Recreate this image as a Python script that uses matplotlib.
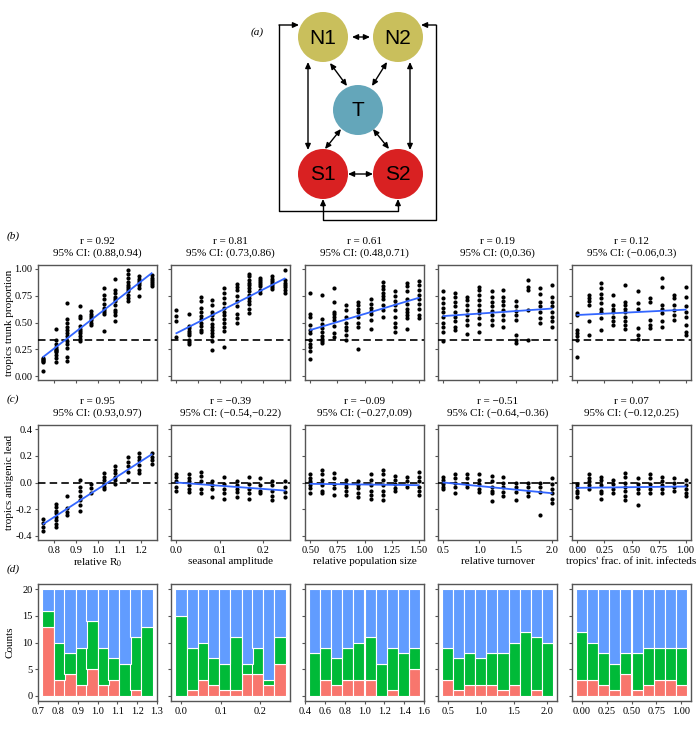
"""Recreation of the multi-panel tropics trunk / antigenic lead figure."""

import matplotlib
matplotlib.use("Agg")
import matplotlib.pyplot as plt
from matplotlib.patches import Circle
from matplotlib.ticker import FormatStrFormatter

plt.rcParams["font.family"] = ["Liberation Serif", "DejaVu Serif"]
plt.rcParams["mathtext.fontset"] = "stix"

W, H = 700, 734

# ---------------------------------------------------------------- data
param_names = [r"relative R$_0$", "seasonal amplitude", "relative population size",
               "relative turnover", "tropics' frac. of init. infecteds"]

r0_x = [0.75, 0.806, 0.861, 0.917, 0.972, 1.028, 1.083, 1.139, 1.194, 1.25]
amp_x = [0.0, 0.028, 0.056, 0.083, 0.111, 0.139, 0.167, 0.194, 0.222, 0.25]
pop_x = [0.5, 0.611, 0.722, 0.833, 0.944, 1.056, 1.167, 1.278, 1.389, 1.5]
turn_x = [0.5, 0.667, 0.833, 1.0, 1.167, 1.333, 1.5, 1.667, 1.833, 2.0]
frac_x = [0.0, 0.111, 0.222, 0.333, 0.444, 0.556, 0.667, 0.778, 0.889, 1.0]
param_x = [r0_x, amp_x, pop_x, turn_x, frac_x]

# tropics trunk proportion, one list per parameter value
trunk_r0 = [
    [0.17, 0.16, 0.15, 0.14, 0.13, 0.05],
    [0.44, 0.34, 0.30, 0.27, 0.25, 0.24, 0.23, 0.22, 0.20, 0.17, 0.13],
    [0.68, 0.53, 0.50, 0.46, 0.43, 0.40, 0.37, 0.33, 0.30, 0.26, 0.18, 0.14],
    [0.65, 0.56, 0.54, 0.47, 0.44, 0.42, 0.40, 0.37, 0.35, 0.33],
    [0.61, 0.58, 0.56, 0.54, 0.52, 0.50, 0.48],
    [0.82, 0.76, 0.72, 0.67, 0.64, 0.62, 0.60, 0.58, 0.42],
    [0.91, 0.80, 0.78, 0.74, 0.72, 0.70, 0.66, 0.62, 0.60, 0.57, 0.51],
    [0.99, 0.95, 0.92, 0.88, 0.85, 0.83, 0.81, 0.79, 0.76, 0.73, 0.70],
    [0.93, 0.91, 0.89, 0.87, 0.85, 0.82, 0.75],
    [0.94, 0.92, 0.90, 0.88, 0.86, 0.84],
]
trunk_amp = [
    [0.62, 0.56, 0.51, 0.36],
    [0.58, 0.47, 0.45, 0.42, 0.40, 0.38, 0.34, 0.32, 0.30],
    [0.74, 0.70, 0.64, 0.60, 0.56, 0.53, 0.50, 0.47, 0.43, 0.41],
    [0.71, 0.66, 0.60, 0.57, 0.53, 0.49, 0.46, 0.43, 0.40, 0.37, 0.33, 0.24],
    [0.82, 0.78, 0.73, 0.68, 0.64, 0.60, 0.57, 0.53, 0.50, 0.46, 0.42, 0.27],
    [0.86, 0.83, 0.80, 0.75, 0.70, 0.65, 0.58, 0.54, 0.50],
    [0.95, 0.93, 0.90, 0.87, 0.85, 0.82, 0.79, 0.76, 0.73, 0.70, 0.67, 0.63, 0.59],
    [0.92, 0.90, 0.88, 0.86, 0.84, 0.80, 0.78],
    [0.93, 0.91, 0.89, 0.87, 0.85, 0.83, 0.81],
    [0.99, 0.90, 0.87, 0.85, 0.83, 0.80, 0.78],
]
trunk_pop = [
    [0.78, 0.58, 0.55, 0.48, 0.43, 0.40, 0.34, 0.30, 0.27, 0.23, 0.16],
    [0.76, 0.53, 0.49, 0.45, 0.41, 0.37, 0.35, 0.33, 0.31],
    [0.82, 0.69, 0.60, 0.58, 0.55, 0.52, 0.47, 0.40, 0.36],
    [0.66, 0.62, 0.55, 0.50, 0.46, 0.43, 0.38, 0.34],
    [0.69, 0.66, 0.63, 0.60, 0.55, 0.50, 0.46, 0.25],
    [0.72, 0.67, 0.64, 0.61, 0.58, 0.52, 0.44],
    [0.88, 0.84, 0.81, 0.78, 0.75, 0.72, 0.66, 0.62, 0.55],
    [0.79, 0.75, 0.70, 0.66, 0.62, 0.55, 0.50, 0.46, 0.41],
    [0.87, 0.84, 0.79, 0.72, 0.67, 0.63, 0.60, 0.57, 0.54, 0.44],
    [0.89, 0.85, 0.80, 0.76, 0.72, 0.67, 0.63, 0.57, 0.54],
]
trunk_turn = [
    [0.79, 0.73, 0.68, 0.64, 0.60, 0.55, 0.50, 0.46, 0.41, 0.33],
    [0.78, 0.74, 0.69, 0.65, 0.60, 0.55, 0.51, 0.46, 0.43],
    [0.74, 0.71, 0.66, 0.62, 0.57, 0.52, 0.48, 0.39],
    [0.83, 0.80, 0.76, 0.71, 0.66, 0.62, 0.59, 0.54, 0.49, 0.41],
    [0.79, 0.74, 0.69, 0.65, 0.61, 0.57, 0.52, 0.48],
    [0.80, 0.74, 0.70, 0.66, 0.62, 0.57, 0.52, 0.46],
    [0.70, 0.65, 0.61, 0.57, 0.52, 0.38, 0.34, 0.31],
    [0.90, 0.83, 0.80, 0.62, 0.34],
    [0.82, 0.77, 0.69, 0.65, 0.60, 0.54, 0.50],
    [0.85, 0.74, 0.69, 0.65, 0.60, 0.55, 0.51, 0.46],
]
trunk_frac = [
    [0.59, 0.57, 0.43, 0.40, 0.37, 0.34, 0.18],
    [0.76, 0.73, 0.70, 0.66, 0.51, 0.38],
    [0.87, 0.82, 0.77, 0.73, 0.68, 0.63, 0.60, 0.54, 0.43],
    [0.76, 0.66, 0.63, 0.60, 0.55, 0.51, 0.48],
    [0.85, 0.69, 0.66, 0.63, 0.60, 0.55, 0.51, 0.48, 0.44],
    [0.79, 0.68, 0.63, 0.45, 0.38, 0.35],
    [0.73, 0.69, 0.52, 0.48, 0.45],
    [0.92, 0.83, 0.66, 0.63, 0.59, 0.51, 0.46],
    [0.76, 0.73, 0.66, 0.62, 0.57, 0.52],
    [0.83, 0.74, 0.65, 0.60, 0.55, 0.48, 0.41, 0.38],
]
trunk_pts = [trunk_r0, trunk_amp, trunk_pop, trunk_turn, trunk_frac]
trunk_fit = [(0.18, 0.96), (0.40, 0.91), (0.43, 0.73), (0.56, 0.63), (0.57, 0.62)]
trunk_r = ["0.92", "0.81", "0.61", "0.19", "0.12"]
trunk_ci = ["(0.88,0.94)", "(0.73,0.86)", "(0.48,0.71)", "(0,0.36)", "(\u22120.06,0.3)"]

# tropics antigenic lead
lead_r0 = [
    [-0.27, -0.30, -0.33, -0.36],
    [-0.16, -0.18, -0.21, -0.23, -0.26, -0.28, -0.31, -0.33],
    [-0.10, -0.19, -0.22, -0.24],
    [0.02, -0.03, -0.06, -0.10, -0.13, -0.17, -0.21],
    [-0.01, -0.04, -0.08],
    [0.07, 0.04, 0.02, -0.01, -0.03, -0.05],
    [0.12, 0.09, 0.07, 0.04, 0.02, -0.01],
    [0.19, 0.15, 0.12, 0.08, 0.02],
    [0.22, 0.19, 0.17, 0.13, 0.09, 0.07],
    [0.22, 0.19, 0.17, 0.14],
]
lead_amp = [
    [0.06, 0.04, 0.01, -0.03, -0.06],
    [0.06, 0.03, 0.01, -0.02, -0.05, -0.07],
    [0.08, 0.05, 0.01, -0.05, -0.08],
    [0.01, -0.02, -0.05, -0.11],
    [0.04, -0.01, -0.05, -0.08, -0.12],
    [0.01, -0.02, -0.05, -0.07, -0.11],
    [0.04, -0.01, -0.05, -0.08, -0.12],
    [0.03, -0.02, -0.06, -0.08],
    [0.01, -0.02, -0.06, -0.10, -0.13],
    [0.01, -0.03, -0.07, -0.11],
]
lead_pop = [
    [0.06, 0.03, 0.01, -0.02, -0.04, -0.08],
    [0.09, 0.06, 0.02, -0.02, -0.06, -0.08],
    [0.07, 0.03, -0.01, -0.04, -0.09],
    [0.02, -0.01, -0.03, -0.06, -0.09],
    [0.01, -0.02, -0.04, -0.08, -0.11],
    [0.06, 0.02, -0.02, -0.06, -0.09, -0.12],
    [0.09, 0.06, 0.02, -0.02, -0.06, -0.09, -0.13],
    [0.05, 0.02, -0.01, -0.04, -0.06],
    [0.04, 0.01, -0.03],
    [0.08, 0.04, 0.01, -0.03, -0.06, -0.09],
]
lead_turn = [
    [0.04, 0.02, -0.01, -0.03, -0.05],
    [0.06, 0.03, 0.00, -0.03, -0.08],
    [0.06, 0.03, -0.01, -0.03],
    [0.06, 0.02, -0.01, -0.05, -0.07],
    [0.05, 0.01, -0.03, -0.06, -0.08, -0.14],
    [0.04, 0.00, -0.03, -0.07, -0.10],
    [0.00, -0.03, -0.07, -0.13],
    [0.00, -0.03, -0.07, -0.10],
    [0.00, -0.03, -0.07, -0.24],
    [0.03, -0.01, -0.05, -0.08, -0.12, -0.15],
]
lead_frac = [
    [-0.01, -0.03, -0.06, -0.08, -0.11],
    [0.06, 0.03, 0.01, -0.02, -0.05],
    [0.04, 0.02, -0.02, -0.06, -0.08, -0.12],
    [0.02, -0.01, -0.05, -0.08],
    [0.07, 0.04, 0.00, -0.03, -0.06, -0.10, -0.13],
    [0.03, -0.01, -0.05, -0.08, -0.17],
    [0.06, 0.03, -0.01, -0.05, -0.08],
    [0.04, 0.01, -0.02, -0.05, -0.08],
    [0.03, 0.00, -0.03, -0.06],
    [0.02, -0.02, -0.05, -0.08, -0.10],
]
lead_pts = [lead_r0, lead_amp, lead_pop, lead_turn, lead_frac]
lead_fit = [(-0.31, 0.21), (0.00, -0.06), (-0.01, -0.02), (0.00, -0.08), (-0.04, -0.03)]
lead_r = ["0.95", "\u22120.39", "\u22120.09", "\u22120.51", "0.07"]
lead_ci = ["(0.93,0.97)", "(\u22120.54,\u22120.22)", "(\u22120.27,0.09)",
           "(\u22120.64,\u22120.36)", "(\u22120.12,0.25)"]

# counts per outcome (stacked: red bottom, green middle, blue top)
count_red = [
    [13, 3, 4, 2, 5, 2, 3, 0, 1, 0],
    [0, 1, 3, 2, 1, 1, 4, 4, 2, 6],
    [0, 3, 2, 3, 3, 3, 0, 1, 0, 5],
    [3, 1, 2, 2, 2, 1, 2, 0, 1, 0],
    [3, 3, 2, 1, 4, 1, 2, 3, 3, 2],
]
count_green = [
    [3, 7, 4, 7, 9, 7, 4, 6, 10, 13],
    [15, 8, 7, 5, 5, 10, 2, 5, 1, 5],
    [8, 6, 5, 6, 7, 8, 6, 8, 8, 4],
    [6, 6, 6, 5, 6, 7, 8, 12, 10, 10],
    [9, 7, 6, 5, 4, 7, 7, 6, 6, 7],
]
count_blue = [
    [4, 10, 12, 11, 6, 11, 13, 14, 9, 7],
    [5, 11, 10, 13, 14, 9, 14, 11, 17, 9],
    [12, 11, 13, 11, 10, 9, 14, 11, 12, 11],
    [11, 13, 12, 13, 12, 12, 10, 8, 9, 10],
    [8, 10, 12, 14, 12, 12, 11, 11, 11, 11],
]

# tick positions / formats per column
ticks_b = [[0.8, 0.9, 1.0, 1.1, 1.2], [0, 0.05, 0.1, 0.15, 0.2, 0.25],
           [0.5, 0.75, 1.0, 1.25, 1.5], [0.5, 1.0, 1.5, 2.0], [0, 0.25, 0.5, 0.75, 1.0]]
ticks_c = [[0.8, 0.9, 1.0, 1.1, 1.2], [0, 0.1, 0.2],
           [0.5, 0.75, 1.0, 1.25, 1.5], [0.5, 1.0, 1.5, 2.0], [0, 0.25, 0.5, 0.75, 1.0]]
ticks_d = [[0.7, 0.8, 0.9, 1.0, 1.1, 1.2, 1.3], [0, 0.1, 0.2],
           [0.4, 0.6, 0.8, 1.0, 1.2, 1.4, 1.6], [0.5, 1.0, 1.5, 2.0],
           [0, 0.25, 0.5, 0.75, 1.0]]
fmt_c = ["%.1f", "%.1f", "%.2f", "%.1f", "%.2f"]
fmt_d = ["%.1f", "%.1f", "%.1f", "%.1f", "%.2f"]

# ---------------------------------------------------------------- style
SPINE = "#555555"
FIT_BLUE = "#3366ff"
RED, GREEN, BLUE = "#f8766d", "#00ba38", "#619cff"
col_left = [38, 171, 305, 438, 572]
PANEL_W = 119


def px_axes(fig, left, top, right, bottom):
    return fig.add_axes([left / W, 1 - bottom / H, (right - left) / W, (bottom - top) / H])


def style_axes(ax):
    for sp in ax.spines.values():
        sp.set_color(SPINE)
        sp.set_linewidth(1.0)
    ax.tick_params(direction="out", length=2.5, width=0.8, color=SPINE,
                   labelsize=7.5, pad=1.5)


def xlim_pad(xs):
    span = xs[-1] - xs[0]
    return xs[0] - 0.05 * span, xs[-1] + 0.05 * span


fig = plt.figure(figsize=(W / 100, H / 100), dpi=100)

# ---------------------------------------------------------------- (a) diagram
dax = fig.add_axes([0, 1 - 230 / H, 1, 230 / H])
dax.set_xlim(0, W)
dax.set_ylim(230, 0)
dax.axis("off")

nodes = {"N1": (323, 37, "#c9bf5c"), "N2": (398, 37, "#c9bf5c"),
         "T": (358, 110, "#64a6ba"), "S1": (323, 174, "#d92122"),
         "S2": (398, 174, "#d92122")}
for name, (cx, cy, colr) in nodes.items():
    dax.add_patch(Circle((cx, cy), 25, color=colr, lw=0, zorder=2))
    dax.text(cx, cy + 1, name, ha="center", va="center", fontsize=15,
             family="Liberation Sans", zorder=3)

head = "<|-|>,head_length=0.35,head_width=0.16"
one = "-|>,head_length=0.35,head_width=0.16"
pairs = [((352, 37), (370, 37)), ((308, 62), (308, 150)), ((410, 62), (410, 150)),
         ((330, 63), (347, 86)), ((387, 62), (372, 86)), ((341, 129), (325, 149)),
         ((373, 129), (389, 149)), ((348, 174), (373, 174))]
for a, b in pairs:
    dax.annotate("", xy=b, xytext=a,
                 arrowprops=dict(arrowstyle=head, color="black", lw=1.0,
                                 shrinkA=0, shrinkB=0))

# outer loops
dax.plot([279, 279, 398, 398], [25, 211, 211, 205], color="black", lw=1.0)
dax.plot([436, 436, 323, 323], [25, 220, 220, 205], color="black", lw=1.0)
for start, end in [((279, 25), (299, 25)), ((398, 206), (398, 199)),
                   ((436, 25), (421, 25)), ((323, 206), (323, 199))]:
    dax.annotate("", xy=end, xytext=start,
                 arrowprops=dict(arrowstyle=one, color="black", lw=1.0,
                                 shrinkA=0, shrinkB=0))

fig.text(257 / W, 1 - 32 / H, "(a)", fontsize=8, style="italic", ha="center", va="center")
fig.text(7 / W, 1 - 236 / H, "(b)", fontsize=8, style="italic", ha="left", va="center")
fig.text(7 / W, 1 - 399 / H, "(c)", fontsize=8, style="italic", ha="left", va="center")
fig.text(7 / W, 1 - 569 / H, "(d)", fontsize=8, style="italic", ha="left", va="center")

# ---------------------------------------------------------------- panels
for j in range(5):
    left = col_left[j]
    right = left + PANEL_W
    xs = param_x[j]

    # (b) trunk proportion
    ax = px_axes(fig, left, 265, right, 380)
    style_axes(ax)
    for xv, col in zip(xs, trunk_pts[j]):
        ax.scatter([xv] * len(col), col, s=9, c="black", lw=0, zorder=2)
    ax.axhline(1 / 3, color="black", lw=1.2, ls=(0, (4.5, 2.5)), zorder=3)
    ax.plot([xs[0], xs[-1]], trunk_fit[j], color=FIT_BLUE, lw=1.3, zorder=4)
    ax.set_xlim(*xlim_pad(xs))
    ax.set_ylim(-0.037, 1.037)
    ax.set_xticks(ticks_b[j])
    ax.set_xticklabels([])
    ax.set_yticks([0, 0.25, 0.5, 0.75, 1.0])
    if j == 0:
        ax.yaxis.set_major_formatter(FormatStrFormatter("%.2f"))
        ax.set_ylabel("tropics trunk proportion", fontsize=8)
        ax.yaxis.set_label_coords(-0.2, 0.5)
    else:
        ax.set_yticklabels([])
    ax.set_title(f"r = {trunk_r[j]}\n95% CI: {trunk_ci[j]}", fontsize=8,
                 pad=7, linespacing=1.2)

    # (c) antigenic lead
    ax = px_axes(fig, left, 425, right, 540)
    style_axes(ax)
    for xv, col in zip(xs, lead_pts[j]):
        ax.scatter([xv] * len(col), col, s=9, c="black", lw=0, zorder=2)
    ax.axhline(0, color="black", lw=1.2, ls=(0, (4.5, 2.5)), zorder=3)
    ax.plot([xs[0], xs[-1]], lead_fit[j], color=FIT_BLUE, lw=1.3, zorder=4)
    ax.set_xlim(*xlim_pad(xs))
    ax.set_ylim(-0.43, 0.43)
    ax.set_xticks(ticks_c[j])
    ax.xaxis.set_major_formatter(FormatStrFormatter(fmt_c[j]))
    ax.set_yticks([-0.4, -0.2, 0.0, 0.2, 0.4])
    if j == 0:
        ax.yaxis.set_major_formatter(FormatStrFormatter("%.1f"))
        ax.set_ylabel("tropics antigenic lead", fontsize=8)
        ax.yaxis.set_label_coords(-0.2, 0.5)
    else:
        ax.set_yticklabels([])
    ax.set_xlabel(param_names[j], fontsize=8, labelpad=1.5)
    ax.set_title(f"r = {lead_r[j]}\n95% CI: {lead_ci[j]}", fontsize=8,
                 pad=7, linespacing=1.2)

    # (d) stacked counts
    ax = px_axes(fig, left, 584, right, 701)
    style_axes(ax)
    width = xs[1] - xs[0]
    red = count_red[j]
    green = count_green[j]
    blue = count_blue[j]
    bottom_blue = [r + g for r, g in zip(red, green)]
    kw = dict(width=width, edgecolor="white", linewidth=0.8)
    ax.bar(xs, red, color=RED, **kw)
    ax.bar(xs, green, bottom=red, color=GREEN, **kw)
    ax.bar(xs, blue, bottom=bottom_blue, color=BLUE, **kw)
    span = xs[-1] - xs[0] + width
    pad = 0.04 * span
    ax.set_xlim(xs[0] - width / 2 - pad, xs[-1] + width / 2 + pad)
    ax.set_ylim(-1, 21)
    ax.set_xticks(ticks_d[j])
    ax.xaxis.set_major_formatter(FormatStrFormatter(fmt_d[j]))
    ax.set_yticks([0, 5, 10, 15, 20])
    if j == 0:
        ax.set_ylabel("Counts", fontsize=8)
        ax.yaxis.set_label_coords(-0.2, 0.5)
    else:
        ax.set_yticklabels([])

fig.savefig("out.png", dpi=100)
